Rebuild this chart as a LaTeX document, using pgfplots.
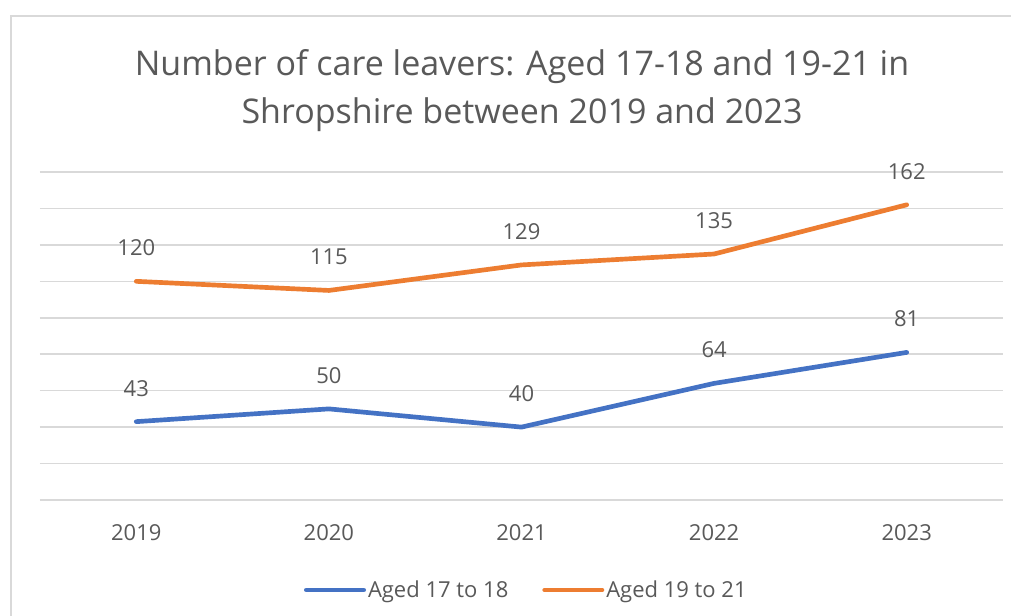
\documentclass[border=0pt]{standalone}
\usepackage{fontspec}
\setmainfont{Open Sans}
\usepackage{pgfplots}
\pgfplotsset{compat=1.18}
\definecolor{cblue}{HTML}{4472C4}
\definecolor{corange}{HTML}{ED7D31}
\definecolor{ctext}{HTML}{595959}
\definecolor{cgrid}{HTML}{D9D9D9}
\begin{document}
\begin{tikzpicture}
\path[use as bounding box, fill=white] (0pt,0pt) rectangle (758.25pt,461.25pt);
\draw[cgrid, line width=1.5pt] (8.25pt,-5pt) -- (8.25pt,449.25pt) -- (765pt,449.25pt);
\node[text=ctext, font=\fontsize{25.5}{30}\selectfont, anchor=base] at (391.5pt,404.25pt) {Number of care leavers: Aged 17-18 and 19-21 in};
\node[text=ctext, font=\fontsize{25.5}{30}\selectfont, anchor=base] at (391.5pt,368.25pt) {Shropshire between 2019 and 2023};
\begin{axis}[
  at={(30pt,86.25pt)}, anchor=south west,
  scale only axis, width=722.25pt, height=246pt,
  xmin=-0.5, xmax=4.5, ymin=0, ymax=180,
  xtick={0,1,2,3,4}, xticklabels={2019,2020,2021,2022,2023},
  ytick={0,20,...,180}, yticklabels={},
  ymajorgrids, grid style={cgrid, line width=1.2pt},
  axis line style={draw=none}, major tick length=0pt,
  tick label style={text=ctext, font=\fontsize{16.5}{19}\selectfont},
  xticklabel style={anchor=center, yshift=-24.75pt},
  /pgf/number format/assume math mode=true,
  nodes near coords,
  nodes near coords style={text=ctext, font=\fontsize{16.5}{19}\selectfont, anchor=center, yshift=25pt},
  legend columns=2,
  legend style={draw=none, at={(0.505,-0.2744)}, anchor=center, font=\fontsize{16.5}{19}\selectfont, text=ctext,
    /tikz/every even column/.append style={column sep=24pt}, inner sep=0pt,
    nodes={inner sep=1.5pt}},
  legend image code/.code={\draw[#1, line width=3.5pt, line cap=round] (0pt,0pt) -- (43pt,0pt);},
  clip=false,
]
\addplot[cblue, line width=3.5pt, line cap=round] coordinates {(0,43) (1,50) (2,40) (3,64) (4,81)};
\addlegendentry{Aged 17 to 18}
\addplot[corange, line width=3.5pt, line cap=round] coordinates {(0,120) (1,115) (2,129) (3,135) (4,162)};
\addlegendentry{Aged 19 to 21}
\end{axis}
\end{tikzpicture}
\end{document}
